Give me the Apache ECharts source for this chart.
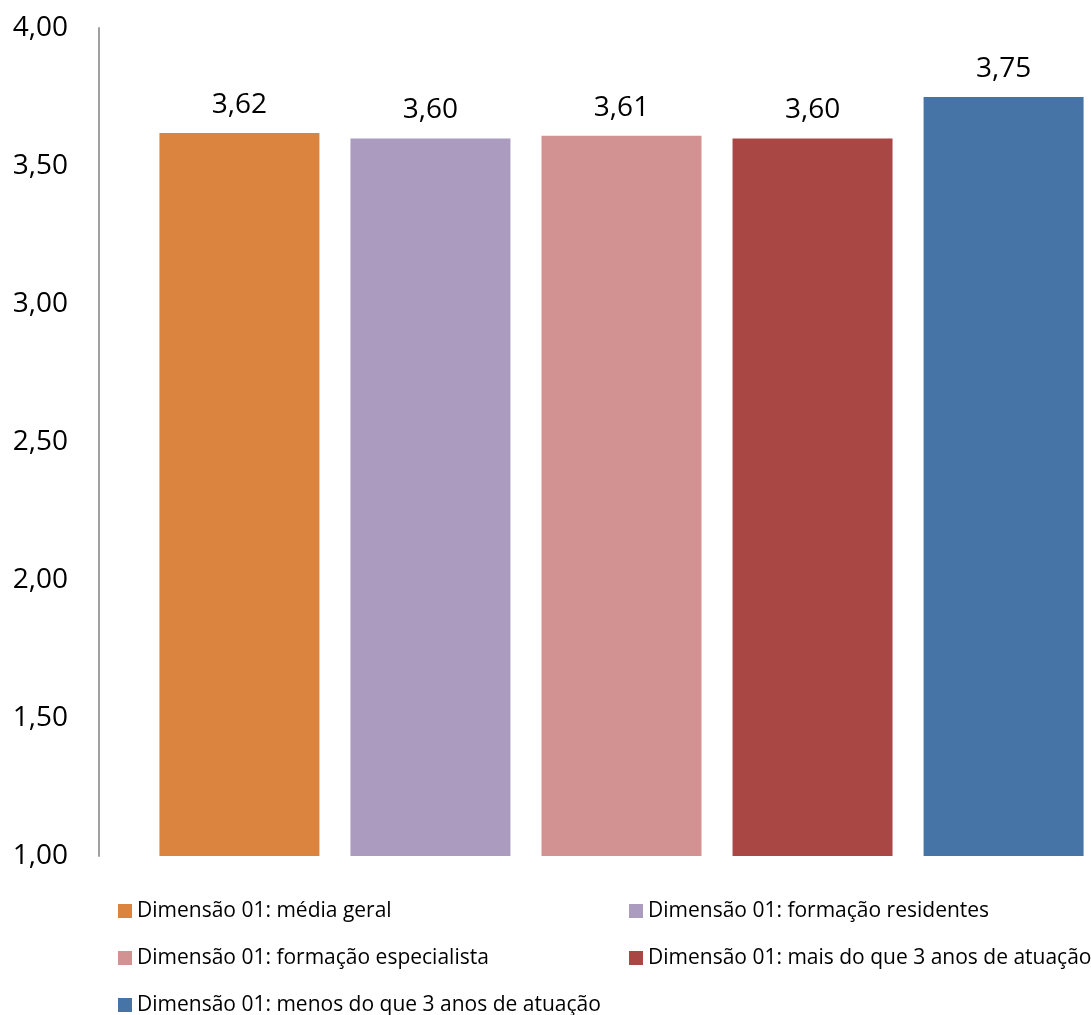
<!DOCTYPE html>
<html>
<head>
<meta charset="utf-8">
<title>Dimensão 01</title>
<script src="https://cdn.jsdelivr.net/npm/echarts@6/dist/echarts.min.js"></script>
<style>
  html, body { margin: 0; padding: 0; background: #ffffff; }
  #chart { width: 1091px; height: 1015px; }
</style>
</head>
<body>
<div id="chart"></div>
<script>
// Chart data
const categories = ['Dimensão 01'];
const seriesNames = [
  'Dimensão 01: média geral',
  'Dimensão 01: formação residentes',
  'Dimensão 01: formação especialista',
  'Dimensão 01: mais do que 3 anos de atuação',
  'Dimensão 01: menos do que 3 anos de atuação'
];
const seriesValues = [3.62, 3.60, 3.61, 3.60, 3.75];
const seriesColors = ['#DA8440', '#AA9BBF', '#D39292', '#A94745', '#4674A7'];
const yTicks = { min: 1, max: 4, interval: 0.5 };

const FONT = '"Open Sans", sans-serif';
const fmt = v => Number(v).toFixed(2).replace('.', ',');

const chart = echarts.init(document.getElementById('chart'), null, { renderer: 'canvas' });

const series = seriesNames.map((name, i) => ({
  name: name,
  type: 'bar',
  data: [seriesValues[i]],
  barWidth: 160,
  barGap: '19.4%',
  itemStyle: { color: seriesColors[i] },
  label: {
    show: true,
    position: 'top',
    distance: 14,
    formatter: p => fmt(p.value),
    fontFamily: FONT,
    fontSize: 28,
    color: '#000000'
  }
}));

// Legend laid out in two columns, one entry per legend block
const legendSlots = [
  { left: 118, top: 900 },
  { left: 629, top: 900 },
  { left: 118, top: 947 },
  { left: 629, top: 947 },
  { left: 118, top: 994 }
];
const legends = seriesNames.map((name, i) => ({
  orient: 'horizontal',
  left: legendSlots[i].left,
  top: legendSlots[i].top,
  padding: 0,
  itemWidth: 14,
  itemHeight: 14,
  icon: 'rect',
  selectedMode: false,
  textStyle: { fontFamily: FONT, fontSize: 21, lineHeight: 22, color: '#000000' },
  data: [name]
}));

chart.setOption({
  animation: false,
  backgroundColor: '#ffffff',
  grid: { left: 152, top: 28, bottom: 159, right: 0, containLabel: false },
  xAxis: {
    type: 'category',
    data: categories,
    axisLine: { show: false },
    axisTick: { show: false },
    axisLabel: { show: false },
    splitLine: { show: false }
  },
  yAxis: {
    type: 'value',
    min: yTicks.min,
    max: yTicks.max,
    interval: yTicks.interval,
    offset: 53,
    axisLine: { show: true, lineStyle: { color: '#A0A0A0', width: 2 } },
    axisTick: { show: false },
    splitLine: { show: false },
    axisLabel: {
      formatter: v => fmt(v),
      fontFamily: FONT,
      fontSize: 28,
      color: '#000000',
      margin: 31
    }
  },
  legend: legends,
  series: series
});
</script>
</body>
</html>
